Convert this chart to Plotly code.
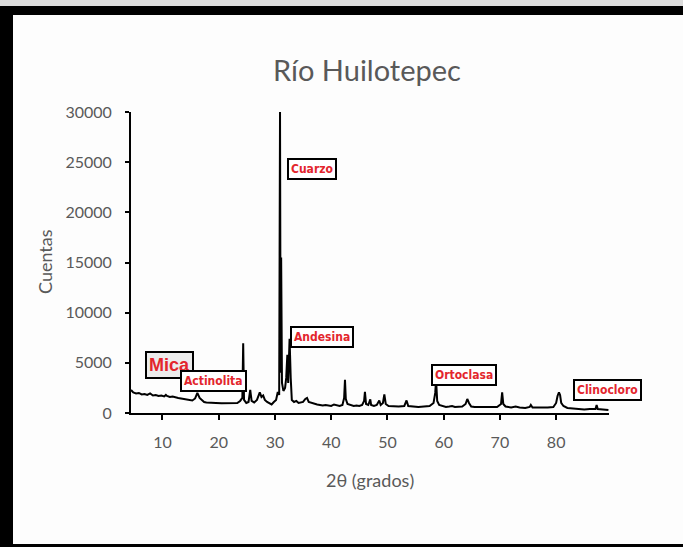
import plotly.graph_objects as go

# Diffractogram of the Río Huilotepec sample (2θ in degrees vs. counts)
two_theta = [
    4.4, 4.8, 5.3, 5.8, 6.3, 6.8, 7.3, 7.8, 8.3, 8.8, 9.3, 9.8, 10.3, 10.6, 10.8,
    11.3, 11.8, 12.3, 12.8, 13.3, 13.8, 14.3, 14.8, 15.3, 15.8, 16.2, 16.6, 17.0,
    17.4, 17.8, 18.5, 19.5, 20.5, 21.5, 22.5, 23.3, 23.8, 24.2, 24.35, 24.5, 24.9,
    25.3, 25.6, 25.85, 26.3, 26.8, 27.3, 27.6, 27.9, 28.2, 28.6, 29.0, 29.4, 29.8,
    30.2, 30.5, 30.75, 30.9, 31.0, 31.1, 31.25, 31.5, 31.8, 32.0, 32.2, 32.35,
    32.6, 32.8, 33.0, 33.4, 33.8, 34.2, 34.6, 35.0, 35.4, 35.7, 36.0, 36.5, 37.0,
    37.5, 38.0, 38.5, 39.0, 39.5, 40.0, 40.5, 41.0, 41.5, 42.0, 42.3, 42.45, 42.6,
    42.9, 43.5, 44.0, 44.5, 45.0, 45.5, 45.85, 46.0, 46.2, 46.6, 46.95, 47.1, 47.6,
    48.1, 48.4, 48.55, 48.8, 49.2, 49.45, 49.7, 50.2, 51.0, 52.0, 53.0, 53.4, 53.7,
    54.5, 55.5, 56.5, 57.5, 58.2, 58.5, 58.65, 58.85, 59.2, 59.8, 60.4, 61.0, 61.5,
    62.0, 62.7, 63.3, 63.9, 64.2, 64.5, 64.9, 65.5, 66.5, 67.5, 68.5, 69.5, 70.2,
    70.4, 70.6, 71.0, 72.0, 72.8, 73.5, 74.5, 75.3, 75.5, 75.8, 76.5, 77.5, 78.5,
    79.5, 80.0, 80.25, 80.5, 80.7, 80.9, 81.3, 82.0, 83.0, 84.0, 85.0, 86.0, 87.0,
    87.2, 87.4, 88.3, 89.3,
]
counts = [
    2300, 2050, 1950, 2000, 1850, 1900, 1800, 1950, 1750, 1800, 1700, 1750, 1650, 1800, 1700,
    1600, 1650, 1550, 1500, 1450, 1400, 1350, 1300, 1250, 1450, 2000, 1500, 1300,
    1100, 1050, 1000, 1000, 980, 1000, 950, 1000, 1200, 1500, 6950, 1300, 1000,
    1100, 2300, 1200, 1050, 1300, 2050, 1600, 1750, 1300, 1100, 1000, 850, 1100,
    1300, 2100, 1800, 30000, 4000, 15500, 3000, 2200, 2500, 3500, 5800, 3000,
    7400, 3500, 1300, 1100, 1200, 1000, 1050, 1100, 1400, 1500, 1100, 1000, 900,
    850, 800, 750, 800, 780, 700, 850, 750, 700, 800, 1500, 3300, 1400,
    900, 800, 700, 750, 700, 800, 1200, 2100, 900, 800, 1350, 800, 700,
    800, 1100, 1250, 800, 1000, 1850, 900, 700, 650, 650, 700, 1250, 700,
    650, 600, 650, 700, 1000, 2000, 3300, 1200, 800, 700, 600, 650, 700,
    600, 650, 650, 900, 1400, 1000, 650, 600, 600, 550, 600, 600, 900,
    2050, 900, 650, 550, 650, 550, 500, 600, 800, 550, 550, 500, 550,
    600, 1000, 1700, 2050, 1800, 1000, 700, 500, 450, 400, 350, 400, 400,
    800, 400, 350, 300,
]

# Phase labels: name, 2θ position and counts where each label box sits
phase_names = ["Mica", "Actinolita", "Cuarzo", "Andesina", "Ortoclasa", "Clinocloro"]
phase_x = [11.24, 19.1, 36.5, 38.3, 63.7, 89.1]
phase_y = [4750, 3150, 24300, 7620, 3750, 2250]

x_ticks = [10, 20, 30, 40, 50, 60, 70, 80]
y_ticks = [0, 5000, 10000, 15000, 20000, 25000, 30000]

W, H = 683, 547
ML, MR, MT, MB = 131, 74, 112, 134
PW, PH = W - ML - MR, H - MT - MB

gray = "#595959"
font_family = "Lato, 'Open Sans', sans-serif"
label_family = "'DejaVu Sans Condensed', 'Liberation Sans', sans-serif"

fig = go.Figure()
fig.add_trace(go.Scatter(
    x=two_theta, y=counts, mode="lines",
    line=dict(color="black", width=2),
    hoverinfo="skip", showlegend=False,
))

for name, px_, py_ in zip(phase_names, phase_x, phase_y):
    big = name == "Mica"
    fig.add_annotation(
        x=px_, y=py_, xref="x", yref="y", text=f"<b>{name}</b>", showarrow=False,
        font=dict(family="'Liberation Sans', Arial, sans-serif" if big else label_family,
                  size=18 if big else 12, color="#e3262d"),
        bgcolor="#ececec" if big else "#ffffff",
        bordercolor="black", borderwidth=2, borderpad=2,
        xanchor="center", yanchor="middle",
    )


def px_x(p):
    return (p - ML) / PW


def px_y(p):
    return (H - MB - p) / PH


# Axis titles
fig.add_annotation(
    x=px_x(45), y=px_y(262), xref="paper", yref="paper", text="Cuentas",
    textangle=-90, showarrow=False, font=dict(family=font_family, size=18, color=gray),
    xanchor="center", yanchor="middle",
)
fig.add_annotation(
    x=px_x(370), y=px_y(480), xref="paper", yref="paper", text="2θ (grados)",
    showarrow=False, font=dict(family=font_family, size=18, color=gray),
    xanchor="center", yanchor="middle",
)

# Frame around the figure
frame = [
    (0, 0, W, 6, "#dcdcdc"),
    (0, 6, W, 15, "black"),
    (0, 6, 13, H, "black"),
    (0, 544, W, H, "black"),
]
for x0, y0, x1, y1, c in frame:
    fig.add_shape(
        type="rect", xref="paper", yref="paper",
        x0=px_x(x0), x1=px_x(x1), y0=px_y(y1), y1=px_y(y0),
        line=dict(width=0), fillcolor=c, layer="above",
    )

fig.update_layout(
    width=W, height=H,
    margin=dict(l=ML, r=MR, t=MT, b=MB, pad=0),
    paper_bgcolor="#fdfdfd", plot_bgcolor="#fdfdfd",
    title=dict(text="Río Huilotepec", x=367 / W, xanchor="center",
               y=1 - 71 / H, yanchor="middle",
               font=dict(family=font_family, size=29, color=gray)),
    xaxis=dict(
        range=[4.4, 89.4], tickvals=x_ticks, ticktext=[str(v) for v in x_ticks],
        showgrid=False, zeroline=False, showline=True, linecolor="black", linewidth=2,
        ticks="outside", ticklen=5, tickcolor="black", tickwidth=1.5,
        ticklabelstandoff=9,
        tickfont=dict(family=font_family, size=16, color=gray),
    ),
    yaxis=dict(
        range=[0, 30000], tickvals=y_ticks, ticktext=[str(v) for v in y_ticks],
        showgrid=False, zeroline=False, showline=True, linecolor="black", linewidth=2,
        ticks="outside", ticklen=4, tickcolor="black", tickwidth=1.5,
        ticklabelstandoff=10,
        tickfont=dict(family=font_family, size=16, color=gray),
    ),
)

fig.write_html("out.html")
